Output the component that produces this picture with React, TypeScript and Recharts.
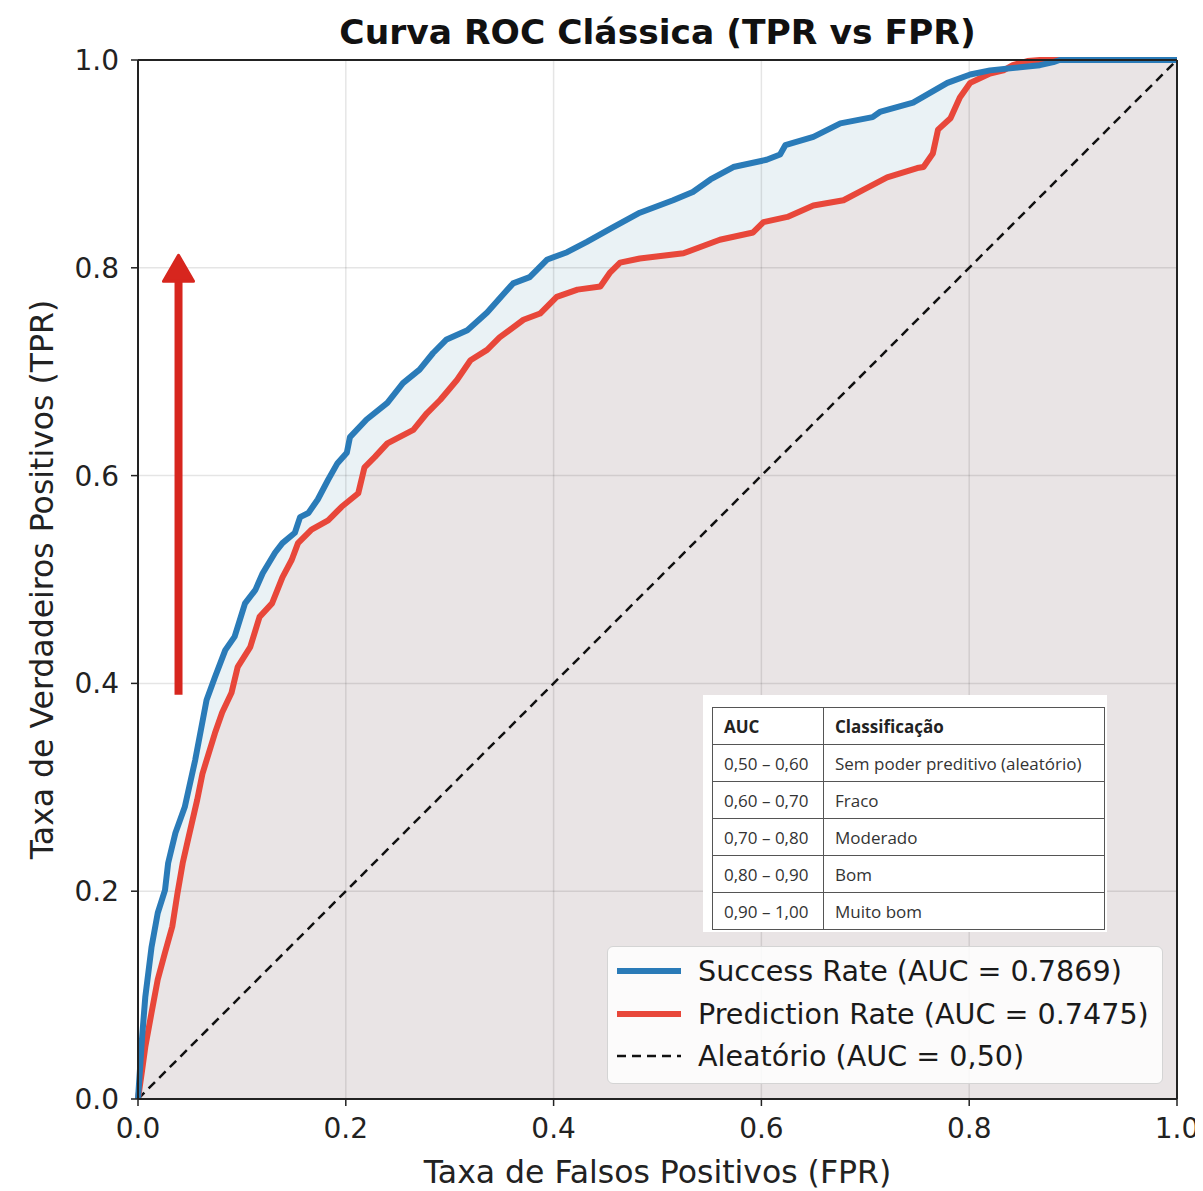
import React from "react";
import {
  ComposedChart,
  Line,
  Area,
  XAxis,
  YAxis,
  ReferenceLine,
  Label,
} from "recharts";

// ---- Data ----
const successFpr = [0, 0.004, 0.007, 0.013, 0.019, 0.026, 0.029, 0.036, 0.045, 0.055, 0.066, 0.074, 0.084, 0.093, 0.103, 0.113, 0.12, 0.132, 0.139, 0.151, 0.156, 0.164, 0.173, 0.183, 0.192, 0.201, 0.204, 0.22, 0.24, 0.255, 0.271, 0.284, 0.297, 0.317, 0.336, 0.361, 0.377, 0.394, 0.413, 0.432, 0.457, 0.483, 0.515, 0.534, 0.551, 0.573, 0.605, 0.618, 0.623, 0.65, 0.676, 0.707, 0.714, 0.746, 0.779, 0.801, 0.82, 0.849, 0.868, 0.881, 0.887, 1];
const successTpr = [0, 0.06, 0.098, 0.146, 0.179, 0.201, 0.227, 0.256, 0.281, 0.326, 0.384, 0.406, 0.432, 0.445, 0.477, 0.49, 0.506, 0.526, 0.535, 0.545, 0.56, 0.564, 0.577, 0.596, 0.612, 0.622, 0.637, 0.654, 0.67, 0.689, 0.702, 0.718, 0.731, 0.74, 0.757, 0.785, 0.791, 0.808, 0.815, 0.825, 0.839, 0.853, 0.865, 0.873, 0.885, 0.897, 0.904, 0.909, 0.918, 0.926, 0.939, 0.945, 0.95, 0.959, 0.978, 0.986, 0.99, 0.993, 0.995, 0.998, 1, 1];

const predictionFpr = [0, 0.004, 0.007, 0.013, 0.019, 0.026, 0.033, 0.038, 0.043, 0.048, 0.057, 0.062, 0.074, 0.081, 0.09, 0.096, 0.108, 0.117, 0.129, 0.139, 0.148, 0.154, 0.167, 0.183, 0.196, 0.212, 0.218, 0.228, 0.24, 0.265, 0.278, 0.291, 0.307, 0.32, 0.336, 0.348, 0.371, 0.387, 0.403, 0.423, 0.445, 0.454, 0.464, 0.483, 0.525, 0.56, 0.592, 0.602, 0.625, 0.65, 0.679, 0.698, 0.721, 0.75, 0.756, 0.765, 0.77, 0.782, 0.791, 0.801, 0.82, 0.833, 0.842, 0.856, 0.868, 1];
const predictionTpr = [0, 0.028, 0.05, 0.083, 0.115, 0.141, 0.166, 0.198, 0.227, 0.249, 0.288, 0.313, 0.352, 0.372, 0.391, 0.416, 0.435, 0.464, 0.477, 0.502, 0.519, 0.535, 0.548, 0.557, 0.57, 0.583, 0.608, 0.618, 0.631, 0.644, 0.66, 0.673, 0.692, 0.711, 0.721, 0.733, 0.75, 0.756, 0.772, 0.779, 0.782, 0.795, 0.805, 0.809, 0.814, 0.827, 0.834, 0.844, 0.849, 0.86, 0.865, 0.875, 0.887, 0.896, 0.897, 0.91, 0.933, 0.944, 0.964, 0.978, 0.987, 0.99, 0.995, 0.999, 1, 1];

const randomFpr = [0, 1];
const randomTpr = [0, 1];

const axisTicks = [0, 0.2, 0.4, 0.6, 0.8, 1.0];
const gridTicks = [0.2, 0.4, 0.6, 0.8];

const arrowFrom = { x: 0.039, y: 0.389 };
const arrowTo = { x: 0.039, y: 0.812 };

const legendItems = [
  { label: "Success Rate (AUC = 0.7869)", color: "#2a7bb8", dashed: false },
  { label: "Prediction Rate (AUC = 0.7475)", color: "#e8473a", dashed: false },
  { label: "Aleatório (AUC = 0,50)", color: "#111111", dashed: true },
];

const aucHeader = ["AUC", "Classificação"];
const aucRanges = ["0,50 – 0,60", "0,60 – 0,70", "0,70 – 0,80", "0,80 – 0,90", "0,90 – 1,00"];
const aucClasses = ["Sem poder preditivo (aleatório)", "Fraco", "Moderado", "Bom", "Muito bom"];

// ---- build table for the chart ----
type Row = { fpr: number; success?: number; prediction?: number; diag?: number };
const rows: Row[] = [];
successFpr.forEach((f, i) => rows.push({ fpr: f, success: successTpr[i] }));
predictionFpr.forEach((f, i) => rows.push({ fpr: f, prediction: predictionTpr[i] }));
randomFpr.forEach((f, i) => rows.push({ fpr: f, diag: randomTpr[i] }));
const chartData = rows
  .map((r, i) => ({ ...r, _i: i }))
  .sort((a, b) => a.fpr - b.fpr || a._i - b._i);

const FONT = "'DejaVu Sans', Verdana, sans-serif";

const ArrowShape = (props: any) => {
  const { x1, y1, x2, y2 } = props;
  if (x1 == null) return null;
  const head = 26;
  const half = 15;
  return (
    <g>
      <line x1={x1} y1={y1} x2={x2} y2={y2 + head - 2} stroke="#d7261e" strokeWidth={8} />
      <polygon
        points={`${x2},${y2} ${x2 - half},${y2 + head} ${x2 + half},${y2 + head}`}
        fill="#d7261e"
        stroke="#d7261e"
        strokeWidth={3}
        strokeLinejoin="round"
      />
    </g>
  );
};

export default function App() {
  const W = 1195;
  const H = 1183;
  return (
    <div style={{ position: "relative", width: W, height: H, fontFamily: FONT, background: "#fff" }}>
      <ComposedChart
        width={W}
        height={H}
        data={chartData}
        margin={{ top: 52, right: 26, left: 0, bottom: 0 }}
      >
        <XAxis
          type="number"
          dataKey="fpr"
          domain={[0, 1]}
          ticks={axisTicks}
          interval={0}
          tickFormatter={(v: number) => v.toFixed(1)}
          height={92}
          tickSize={7}
          tickMargin={12}
          tick={{ fontSize: 28, fill: "#222", fontFamily: FONT }}
          axisLine={{ stroke: "#222", strokeWidth: 2 }}
          tickLine={{ stroke: "#222", strokeWidth: 1.5 }}
        >
          <Label
            content={(p: any) => {
              const vb = p.viewBox || {};
              return (
                <text
                  x={vb.x + vb.width / 2}
                  y={vb.y + 84}
                  textAnchor="middle"
                  fontSize={31.5}
                  fill="#222"
                  fontFamily={FONT}
                >
                  Taxa de Falsos Positivos (FPR)
                </text>
              );
            }}
          />
        </XAxis>
        <YAxis
          type="number"
          domain={[0, 1]}
          ticks={axisTicks}
          interval={0}
          tickFormatter={(v: number) => v.toFixed(1)}
          width={130}
          tickSize={7}
          tickMargin={12}
          tick={{ fontSize: 28, fill: "#222", fontFamily: FONT }}
          axisLine={{ stroke: "#222", strokeWidth: 2 }}
          tickLine={{ stroke: "#222", strokeWidth: 1.5 }}
        >
          <Label
            content={(p: any) => {
              const vb = p.viewBox || {};
              const cx = 34;
              const cy = vb.y + vb.height / 2;
              return (
                <text
                  x={cx}
                  y={cy}
                  textAnchor="middle"
                  dominantBaseline="central"
                  fontSize={31.5}
                  fill="#222"
                  fontFamily={FONT}
                  transform={`rotate(-90 ${cx} ${cy})`}
                >
                  Taxa de Verdadeiros Positivos (TPR)
                </text>
              );
            }}
          />
        </YAxis>

        <Area
          type="linear"
          dataKey="success"
          connectNulls
          stroke="none"
          fill="#eaf2f5"
          fillOpacity={1}
          isAnimationActive={false}
          activeDot={false}
        />
        <Area
          type="linear"
          dataKey="prediction"
          connectNulls
          stroke="none"
          fill="#e9e4e5"
          fillOpacity={1}
          isAnimationActive={false}
          activeDot={false}
        />

        {gridTicks.map((t) => (
          <ReferenceLine key={"gx" + t} x={t} stroke="rgba(0,0,0,0.1)" strokeWidth={1.5} />
        ))}
        {gridTicks.map((t) => (
          <ReferenceLine key={"gy" + t} y={t} stroke="rgba(0,0,0,0.1)" strokeWidth={1.5} />
        ))}

        <Line
          type="linear"
          dataKey="diag"
          connectNulls
          stroke="#111"
          strokeWidth={2.5}
          strokeDasharray="9 6"
          dot={false}
          activeDot={false}
          isAnimationActive={false}
        />
        <Line
          type="linear"
          dataKey="prediction"
          connectNulls
          stroke="#e8473a"
          strokeWidth={6}
          strokeLinejoin="round"
          dot={false}
          activeDot={false}
          isAnimationActive={false}
        />
        <Line
          type="linear"
          dataKey="success"
          connectNulls
          stroke="#2a7bb8"
          strokeWidth={6}
          strokeLinejoin="round"
          dot={false}
          activeDot={false}
          isAnimationActive={false}
        />

        <ReferenceLine x={1} stroke="#222" strokeWidth={2} />
        <ReferenceLine y={1} stroke="#222" strokeWidth={2} />

        <ReferenceLine
          segment={[arrowFrom, arrowTo]}
          shape={ArrowShape}
          ifOverflow="visible"
        />
      </ComposedChart>

      {/* Title */}
      <div
        style={{
          position: "absolute",
          left: 130,
          width: 1039,
          top: 2,
          textAlign: "center",
          fontSize: 34.5,
          fontWeight: "bold",
          color: "#111",
          fontFamily: FONT,
          lineHeight: "44px",
        }}
      >
        Curva ROC Clássica (TPR vs FPR)
      </div>

      {/* AUC table */}
      <div
        style={{
          position: "absolute",
          left: 695,
          top: 687,
          width: 404,
          height: 237,
          background: "#fff",
        }}
      >
        <table
          style={{
            position: "absolute",
            left: 9,
            top: 12,
            width: 393,
            borderCollapse: "collapse",
            fontFamily: "'Open Sans', 'Noto Sans', sans-serif",
            fontSize: 17,
            color: "#333",
          }}
        >
          <tbody>
            <tr style={{ height: 37 }}>
              <td style={{ border: "1.5px solid #555", padding: "0 11px", width: 88, fontWeight: "bold", color: "#222" }}>
                {aucHeader[0]}
              </td>
              <td style={{ border: "1.5px solid #555", padding: "0 11px", fontWeight: "bold", color: "#222" }}>
                {aucHeader[1]}
              </td>
            </tr>
            {aucRanges.map((r, i) => (
              <tr key={r} style={{ height: 37 }}>
                <td style={{ border: "1.5px solid #555", padding: "0 11px", whiteSpace: "nowrap" }}>{r}</td>
                <td style={{ border: "1.5px solid #555", padding: "0 11px", whiteSpace: "nowrap" }}>{aucClasses[i]}</td>
              </tr>
            ))}
          </tbody>
        </table>
      </div>

      {/* Legend */}
      <div
        style={{
          position: "absolute",
          left: 599,
          top: 938,
          width: 556,
          height: 138,
          boxSizing: "border-box",
          background: "rgba(255,255,255,0.85)",
          border: "1.5px solid #d4d4d4",
          borderRadius: 6,
        }}
      >
        {legendItems.map((it, i) => (
          <div
            key={it.label}
            style={{
              position: "absolute",
              left: 0,
              top: 24 + i * 42.5 - 20,
              height: 40,
              display: "flex",
              alignItems: "center",
            }}
          >
            <svg width={90} height={40} style={{ display: "block" }}>
              <line
                x1={9}
                x2={73}
                y1={20}
                y2={20}
                stroke={it.color}
                strokeWidth={it.dashed ? 2.5 : 6}
                strokeDasharray={it.dashed ? "9 6" : undefined}
              />
            </svg>
            <span style={{ fontSize: 28.6, color: "#1a1a1a", fontFamily: FONT, whiteSpace: "nowrap" }}>
              {it.label}
            </span>
          </div>
        ))}
      </div>
    </div>
  );
}
